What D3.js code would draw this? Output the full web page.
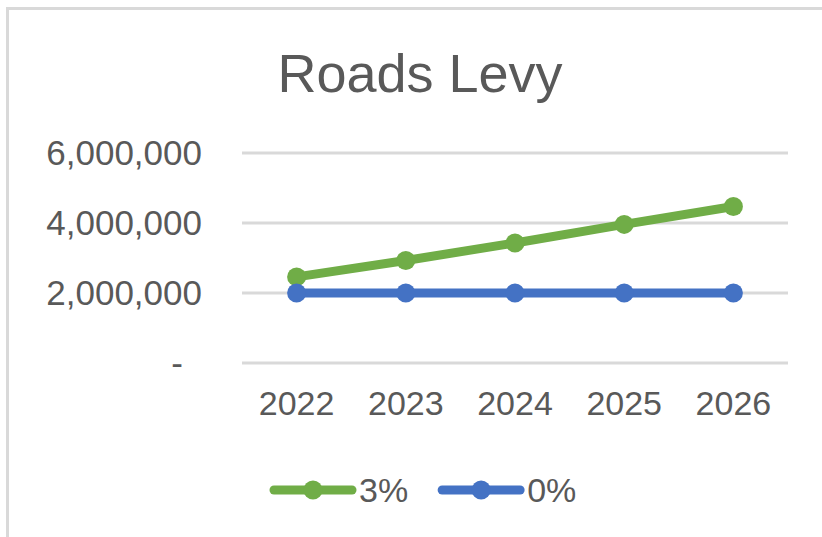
<!DOCTYPE html>
<html>
<head>
<meta charset="utf-8">
<script src="https://cdn.jsdelivr.net/npm/d3@7"></script>
<style>
  html, body { margin: 0; padding: 0; background: #fff; }
  svg { display: block; font-family: "Liberation Sans", Arial, sans-serif; }
</style>
</head>
<body>
<div id="chart"></div>
<script>
// chart data
const years = ['2022', '2023', '2024', '2025', '2026'];
const levy3 = [2460000, 2930000, 3430000, 3960000, 4470000];
const levy0 = [2000000, 2000000, 2000000, 2000000, 2000000];
const seriesNames = ['3%', '0%'];
const seriesColors = ['#70ad47', '#4472c4'];
const yTicks = [0, 2000000, 4000000, 6000000];
const yTickLabels = ['-', '2,000,000', '4,000,000', '6,000,000'];

const W = 822, H = 537;
const margin = { top: 153, right: 34, bottom: 174, left: 242 };
const width = W - margin.left - margin.right;
const height = H - margin.top - margin.bottom;
const textColor = '#595959';

const svg = d3.select('#chart')
  .append('svg')
  .attr('width', W)
  .attr('height', H);

// chart area border (left + top only visible)
svg.append('path')
  .attr('d', `M7.5,${H} V8.5 H${W}`)
  .attr('fill', 'none')
  .attr('stroke', '#d9d9d9')
  .attr('stroke-width', 3);

// title
svg.append('text')
  .attr('x', 420)
  .attr('y', 92)
  .attr('text-anchor', 'middle')
  .style('font-size', '54px')
  .style('fill', textColor)
  .text('Roads Levy');

const g = svg.append('g')
  .attr('transform', `translate(${margin.left},${margin.top})`);

const x = d3.scaleBand()
  .domain(years)
  .range([0, width]);

const y = d3.scaleLinear()
  .domain([0, 6000000])
  .range([height, 0]);

// gridlines
g.append('g')
  .selectAll('line')
  .data(yTicks)
  .enter()
  .append('line')
  .attr('x1', 0)
  .attr('x2', width)
  .attr('y1', (d) => y(d))
  .attr('y2', (d) => y(d))
  .attr('stroke', '#d9d9d9')
  .attr('stroke-width', 3);

// y axis labels
const yAxis = g.append('g')
  .call(d3.axisLeft(y)
    .tickValues(yTicks)
    .tickSize(0)
    .tickPadding(40)
    .tickFormat((d, i) => yTickLabels[i]));
yAxis.select('.domain').remove();
yAxis.selectAll('text')
  .style('font-size', '35px')
  .style('fill', textColor)
  .attr('font-family', null)
  .attr('dx', (d) => (d === 0 ? -19 : 0));

// x axis labels
const xAxis = g.append('g')
  .attr('transform', `translate(0,${height})`)
  .call(d3.axisBottom(x).tickSize(0).tickPadding(28));
xAxis.select('.domain').remove();
xAxis.selectAll('text')
  .style('font-size', '34px')
  .style('fill', textColor)
  .attr('font-family', null);

// lines + markers
const series = [levy3, levy0];
const line = d3.line()
  .x((d, i) => x(years[i]) + x.bandwidth() / 2)
  .y((d) => y(d));

series.forEach((vals, s) => {
  g.append('path')
    .datum(vals)
    .attr('fill', 'none')
    .attr('stroke', seriesColors[s])
    .attr('stroke-width', 9)
    .attr('stroke-linejoin', 'round')
    .attr('d', line);
  g.selectAll(null)
    .data(vals)
    .enter()
    .append('circle')
    .attr('cx', (d, i) => x(years[i]) + x.bandwidth() / 2)
    .attr('cy', (d) => y(d))
    .attr('r', 9.5)
    .attr('fill', seriesColors[s]);
});

// legend
const legend = svg.append('g').attr('transform', 'translate(0,490)');
let cursor = 270;
seriesNames.forEach((name, s) => {
  const item = legend.append('g').attr('transform', `translate(${cursor},0)`);
  item.append('line')
    .attr('x1', 4).attr('x2', 82)
    .attr('y1', 0).attr('y2', 0)
    .attr('stroke', seriesColors[s])
    .attr('stroke-width', 9)
    .attr('stroke-linecap', 'round');
  item.append('circle')
    .attr('cx', 43).attr('cy', 0).attr('r', 9.5)
    .attr('fill', seriesColors[s]);
  const t = item.append('text')
    .attr('x', 89)
    .attr('dy', '0.35em')
    .style('font-size', '34px')
    .style('fill', textColor)
    .text(name);
  cursor += 89 + t.node().getComputedTextLength() + 30;
});
</script>
</body>
</html>
